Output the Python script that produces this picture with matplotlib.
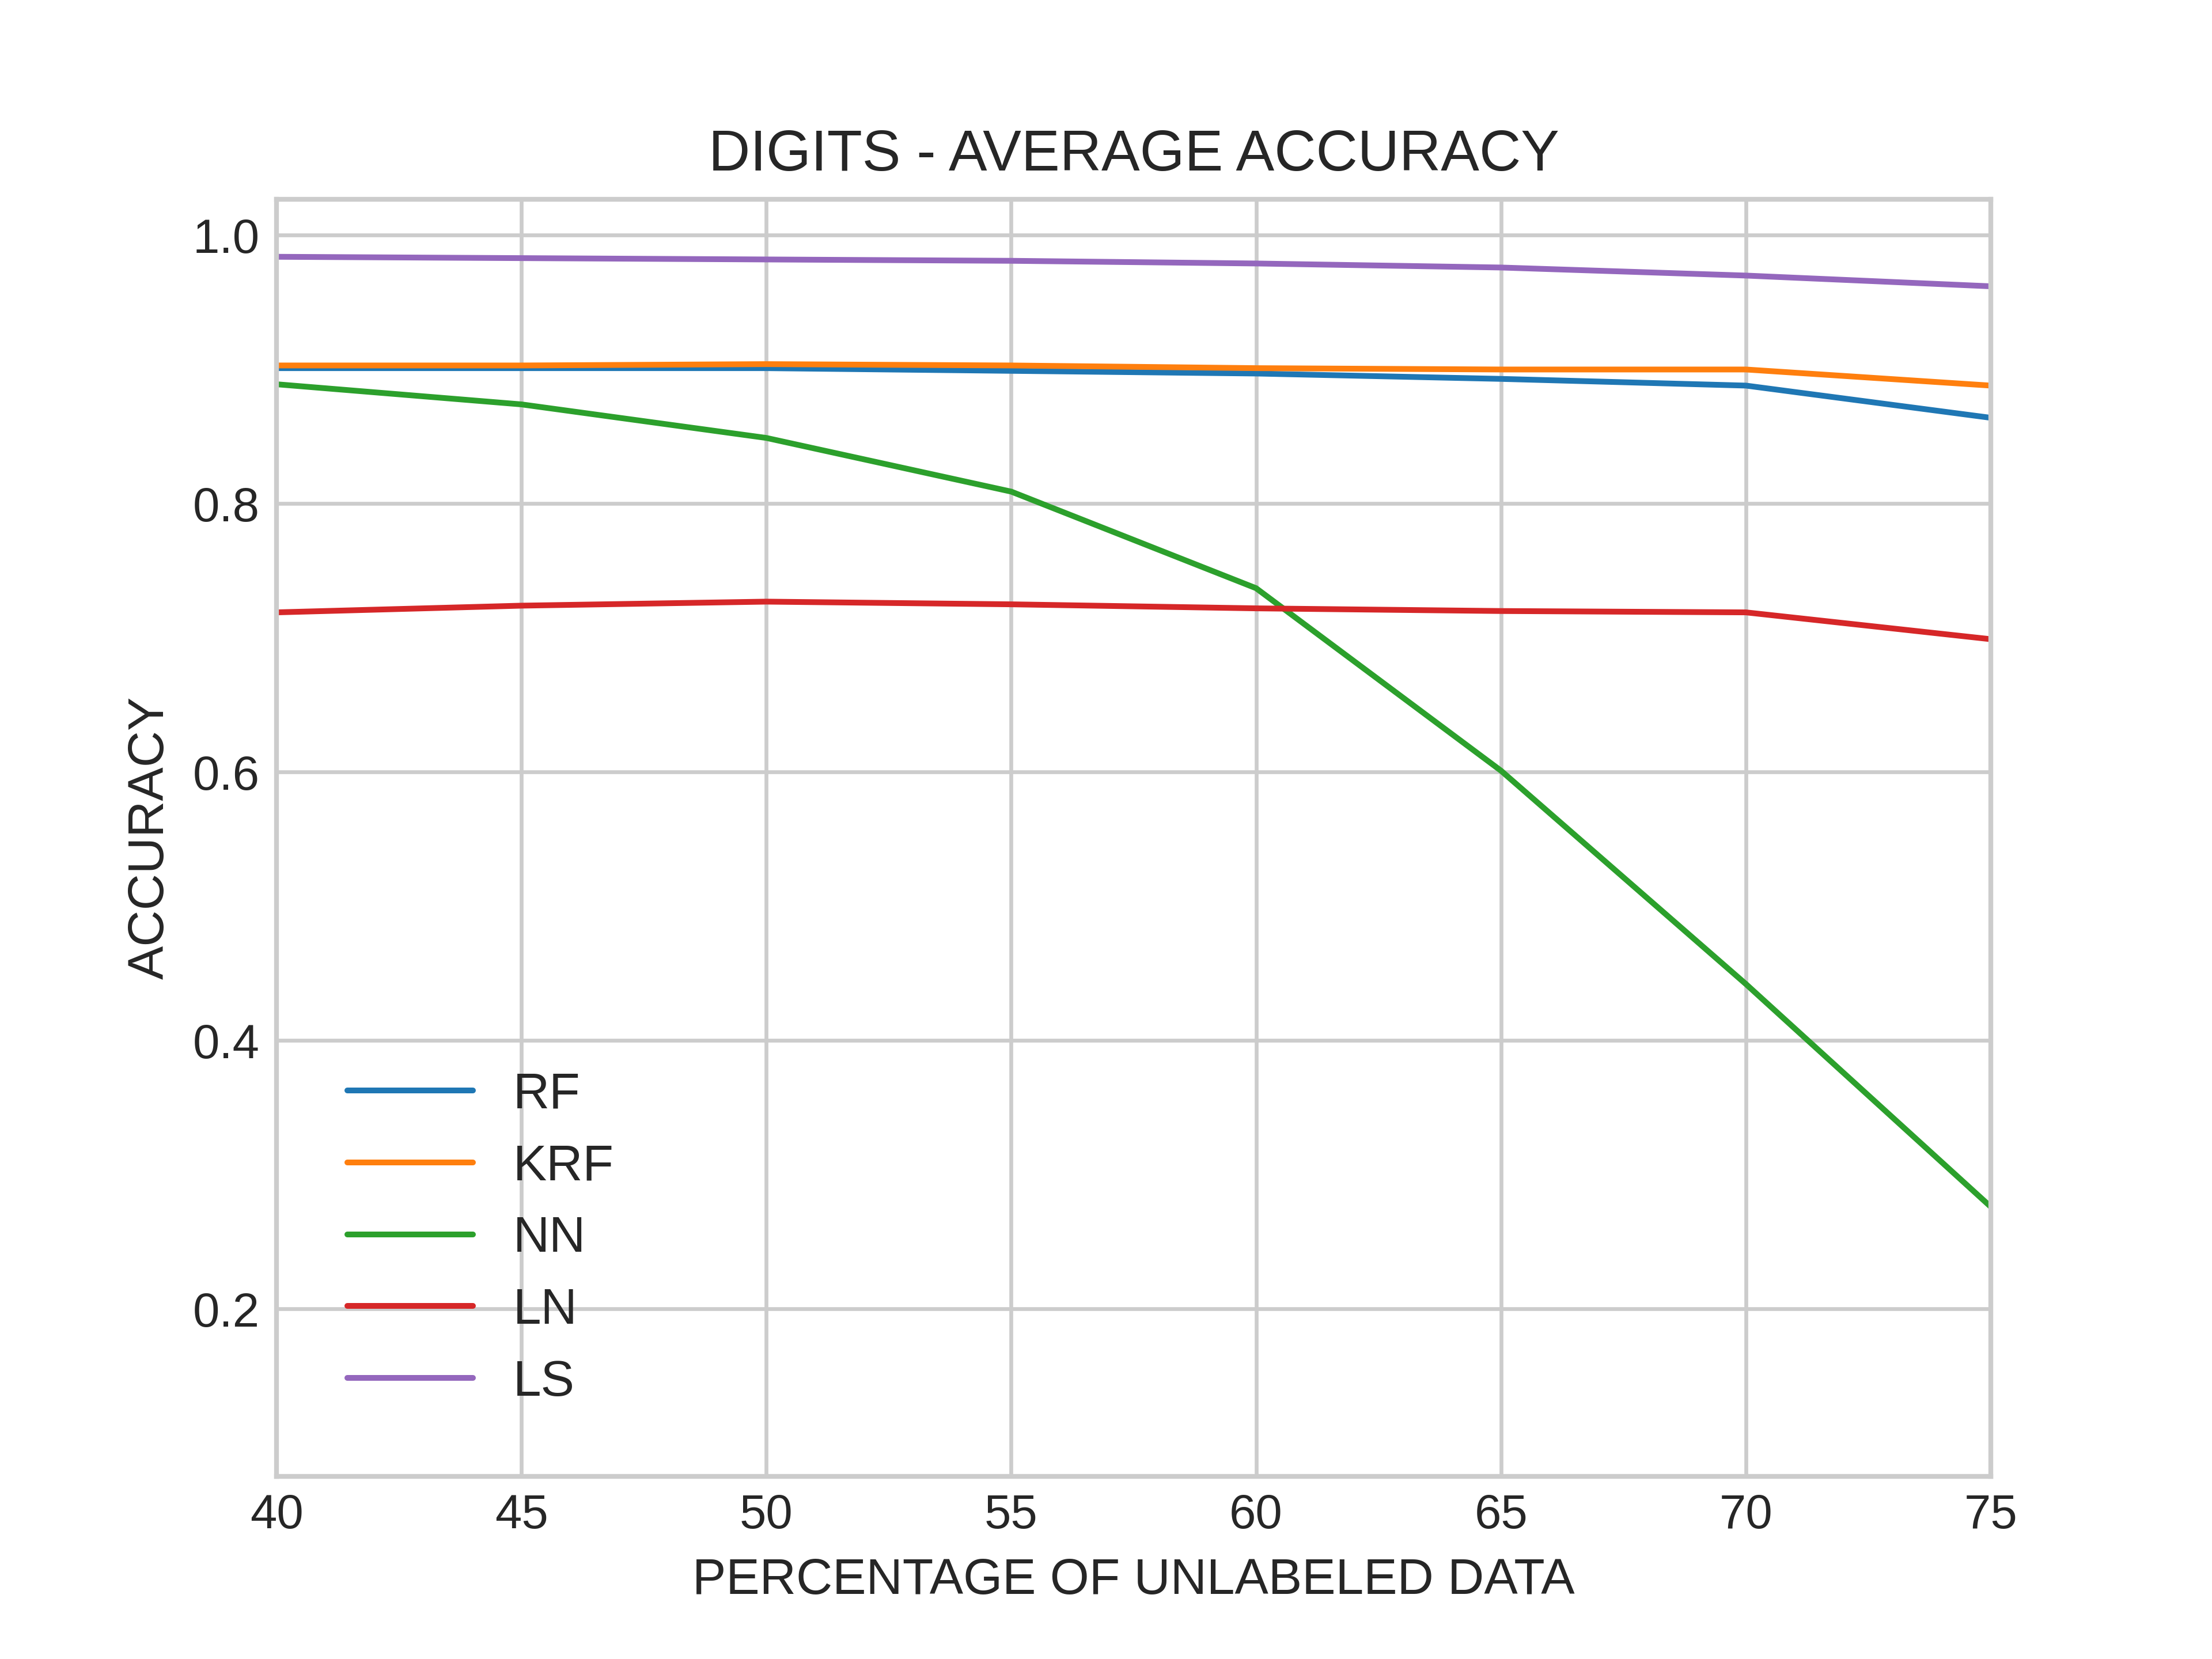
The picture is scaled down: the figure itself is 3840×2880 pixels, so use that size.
import matplotlib
matplotlib.use("Agg")
import matplotlib.pyplot as plt

x = [40, 45, 50, 55, 60, 65, 70, 75]
rf = [0.901, 0.901, 0.901, 0.899, 0.897, 0.893, 0.888, 0.864]
krf = [0.903, 0.903, 0.904, 0.903, 0.901, 0.900, 0.900, 0.888]
nn = [0.889, 0.874, 0.849, 0.809, 0.737, 0.601, 0.442, 0.276]
ln = [0.719, 0.724, 0.727, 0.725, 0.722, 0.720, 0.719, 0.699]
ls = [0.984, 0.983, 0.982, 0.981, 0.979, 0.976, 0.970, 0.962]
names = ["RF", "KRF", "NN", "LN", "LS"]

plt.style.use("seaborn-v0_8-whitegrid")
plt.rcParams['font.family'] = ['Liberation Sans', 'DejaVu Sans']
fig, ax = plt.subplots(figsize=(6.4, 4.8), dpi=600)
fig.subplots_adjust(left=0.125, right=0.9, bottom=0.11, top=0.88)
for s, n in zip([rf, krf, nn, ln, ls], names):
    ax.plot(x, s, label=n, linewidth=1.2)
ax.set_xlim(40, 75)
ax.set_ylim(0.075, 1.027)
ax.set_xticks(x)
ax.set_yticks([0.2, 0.4, 0.6, 0.8, 1.0])
ax.tick_params(labelsize=10)
ax.set_title("DIGITS - AVERAGE ACCURACY", fontsize=12)
ax.set_xlabel("PERCENTAGE OF UNLABELED DATA", fontsize=10.5)
ax.set_ylabel("ACCURACY", fontsize=10.5)
for sp in ax.spines.values():
    sp.set_visible(True)
    sp.set_color("#cccccc")
    sp.set_linewidth(1.0)
ax.legend(loc="lower left", fontsize=10.5, borderaxespad=1.0, handlelength=2.5)
fig.savefig("out.png")
